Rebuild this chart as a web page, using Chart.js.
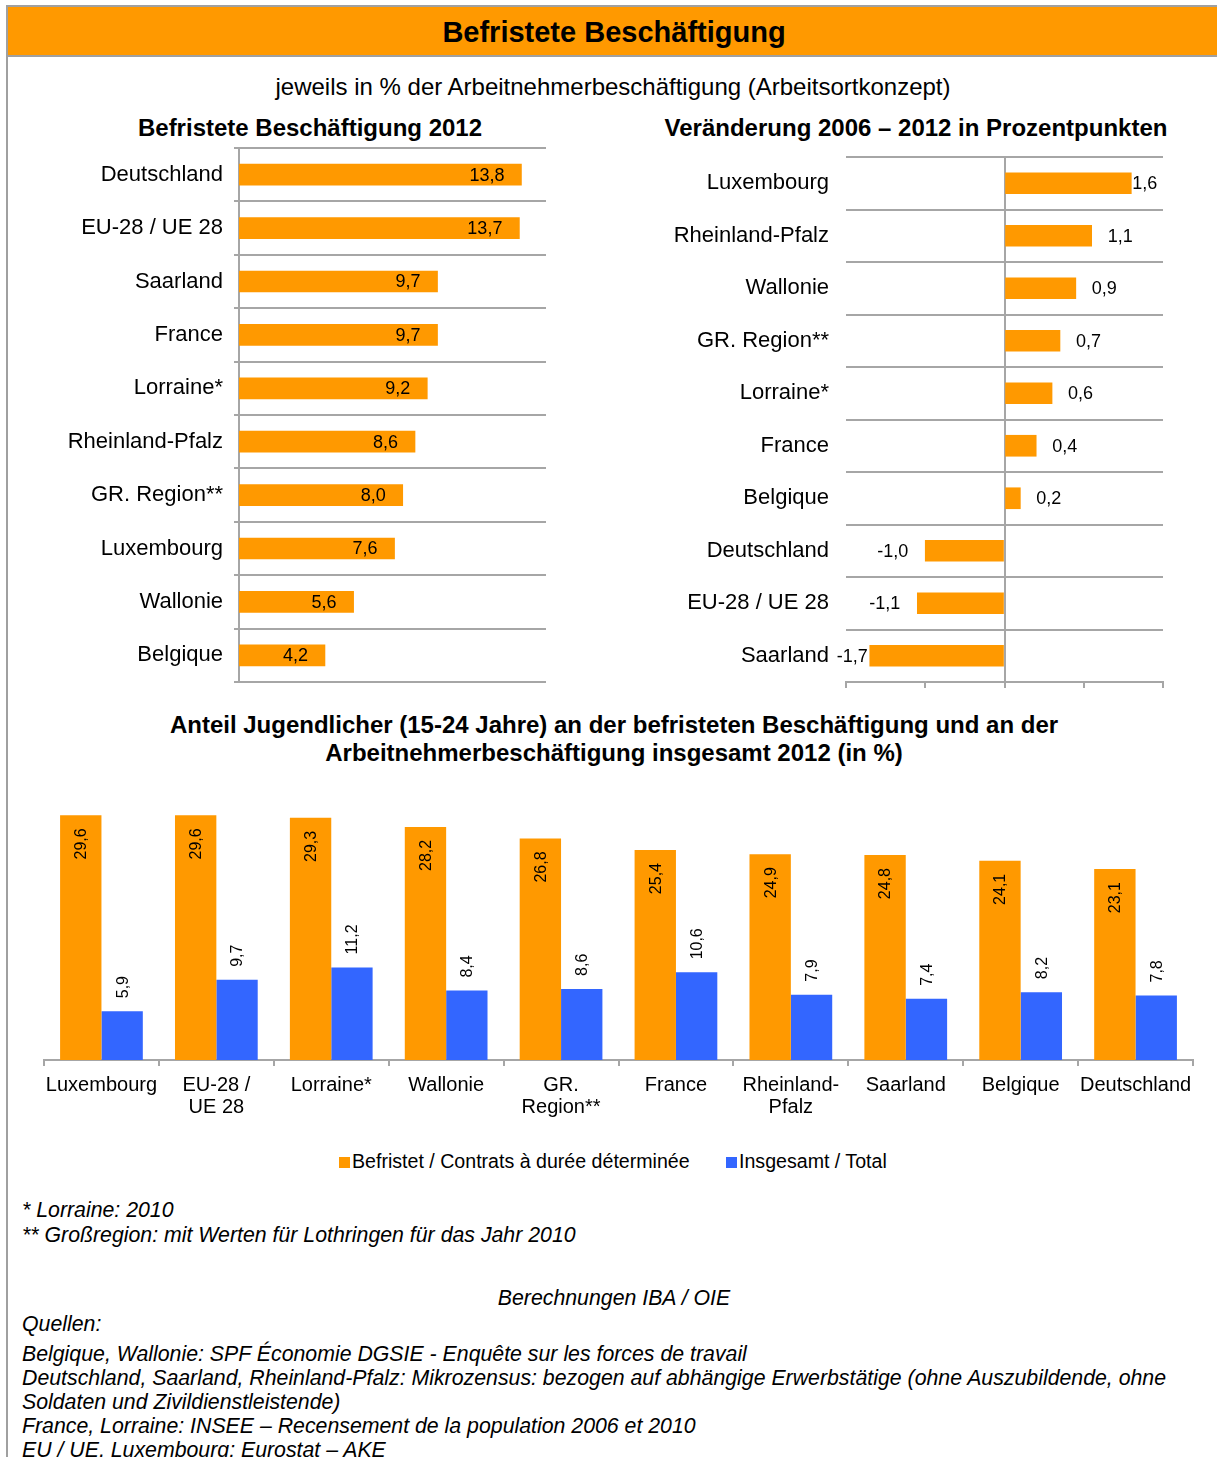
<!DOCTYPE html>
<html>
<head>
<meta charset="utf-8">
<script src="https://cdn.jsdelivr.net/npm/chart.js@4"></script>
<style>
  html, body { margin:0; padding:0; background:#fff; }
  body { width:1217px; height:1457px; position:relative; overflow:hidden; font-family:"Liberation Sans", Arial, sans-serif; color:#000; }
  .abs { position:absolute; }
  .c { position:absolute; transform:translate(-50%,-50%); white-space:nowrap; }
  .l { position:absolute; transform:translateY(-50%); white-space:nowrap; }
  .b { font-weight:bold; }
  .fn { font-style:italic; font-size:21.3px; }
  canvas { position:absolute; }
</style>
</head>
<body>
<div class="abs" style="left:6px;top:5px;width:1211px;height:2px;background:#a0a0a0"></div>
<div class="abs" style="left:6px;top:5px;width:2px;height:1452px;background:#a0a0a0"></div>
<div class="abs" style="left:8px;top:7px;width:1209px;height:48px;background:#FF9900"></div>
<div class="abs" style="left:8px;top:55px;width:1209px;height:2px;background:#a0a0a0"></div>
<div class="c b" style="left:614px;top:32px;font-size:29px">Befristete Beschäftigung</div>
<div class="c" style="left:613px;top:87px;font-size:24px">jeweils in % der Arbeitnehmerbeschäftigung (Arbeitsortkonzept)</div>
<div class="c b" style="left:310px;top:128px;font-size:24px">Befristete Beschäftigung 2012</div>
<div class="c b" style="left:916px;top:128px;font-size:24px">Veränderung 2006 – 2012 in Prozentpunkten</div>
<div class="c b" style="left:614px;top:725px;font-size:24px">Anteil Jugendlicher (15-24 Jahre) an der befristeten Beschäftigung und an der</div>
<div class="c b" style="left:614px;top:753px;font-size:24px">Arbeitnehmerbeschäftigung insgesamt 2012 (in %)</div>

<canvas id="c1" width="560" height="550" style="left:0px;top:140px"></canvas>
<canvas id="c2" width="617" height="560" style="left:600px;top:140px"></canvas>
<canvas id="c3" width="1217" height="350" style="left:0px;top:785px"></canvas>

<div class="abs" style="left:339px;top:1157px;width:11px;height:11px;background:#FF9900"></div>
<div class="l" style="left:352px;top:1161px;font-size:19.6px" id="lg1"></div>
<div class="abs" style="left:726px;top:1157px;width:11px;height:11px;background:#3366FF"></div>
<div class="l" style="left:739px;top:1161px;font-size:19.6px" id="lg2"></div>

<div class="l fn" style="left:22px;top:1210px">* Lorraine: 2010</div>
<div class="l fn" style="left:22px;top:1235px">** Großregion: mit Werten für Lothringen für das Jahr 2010</div>
<div class="c fn" style="left:614px;top:1298px">Berechnungen IBA / OIE</div>
<div class="l fn" style="left:22px;top:1324px">Quellen:</div>
<div class="l fn" style="left:22px;top:1354px">Belgique, Wallonie: SPF Économie DGSIE - Enquête sur les forces de travail</div>
<div class="l fn" style="left:22px;top:1378px">Deutschland, Saarland, Rheinland-Pfalz: Mikrozensus: bezogen auf abhängige Erwerbstätige (ohne Auszubildende, ohne</div>
<div class="l fn" style="left:22px;top:1402px">Soldaten und Zivildienstleistende)</div>
<div class="l fn" style="left:22px;top:1426px">France, Lorraine: INSEE – Recensement de la population 2006 et 2010</div>
<div class="l fn" style="left:22px;top:1450px">EU / UE, Luxembourg: Eurostat – AKE</div>

<script>
// ---- Data ----
const leftCategories = ["Deutschland", "EU-28 / UE 28", "Saarland", "France", "Lorraine*", "Rheinland-Pfalz", "GR. Region**", "Luxembourg", "Wallonie", "Belgique"];
const leftValues = [13.8, 13.7, 9.7, 9.7, 9.2, 8.6, 8.0, 7.6, 5.6, 4.2];

const rightCategories = ["Luxembourg", "Rheinland-Pfalz", "Wallonie", "GR. Region**", "Lorraine*", "France", "Belgique", "Deutschland", "EU-28 / UE 28", "Saarland"];
const rightValues = [1.6, 1.1, 0.9, 0.7, 0.6, 0.4, 0.2, -1.0, -1.1, -1.7];

const bottomCategories = ["Luxembourg", ["EU-28 /", "UE 28"], "Lorraine*", "Wallonie", ["GR.", "Region**"], "France", ["Rheinland-", "Pfalz"], "Saarland", "Belgique", "Deutschland"];
const befristetValues = [29.6, 29.6, 29.3, 28.2, 26.8, 25.4, 24.9, 24.8, 24.1, 23.1];
const insgesamtValues = [5.9, 9.7, 11.2, 8.4, 8.6, 10.6, 7.9, 7.4, 8.2, 7.8];
const seriesNames = ["Befristet / Contrats à durée déterminée", "Insgesamt / Total"];

// ---- Styles ----
const ORANGE = "#FF9900";
const BLUE = "#3366FF";
const GRID = "#a6a6a6";
const FAMILY = '"Liberation Sans", Arial, sans-serif';

document.getElementById("lg1").textContent = seriesNames[0];
document.getElementById("lg2").textContent = seriesNames[1];

const fmt = v => v.toFixed(1).replace(".", ",");

const hLabels = {
  id: "hLabels",
  afterDatasetsDraw(chart, args, opts) {
    const { ctx, chartArea } = chart;
    const meta = chart.getDatasetMeta(0);
    const data = chart.data.datasets[0].data;
    ctx.save();
    ctx.font = "18px " + FAMILY;
    ctx.fillStyle = "#000";
    ctx.textBaseline = "middle";
    meta.data.forEach((bar, i) => {
      const v = data[i];
      const t = fmt(v);
      const w = ctx.measureText(t).width;
      let x;
      if (opts.mode === "insideEnd") {
        ctx.textAlign = "right";
        x = bar.x - 17;
      } else if (v >= 0) {
        ctx.textAlign = "left";
        x = bar.x + 16;
        if (x + w > chartArea.right) x = bar.x + 1;
      } else {
        ctx.textAlign = "right";
        x = bar.x - 17;
        if (x - w < chartArea.left) x = bar.x - 2;
      }
      ctx.fillText(t, x, bar.y + 1);
    });
    ctx.restore();
  }
};

const vLabels = {
  id: "vLabels",
  afterDatasetsDraw(chart) {
    const ctx = chart.ctx;
    ctx.save();
    ctx.font = "16px " + FAMILY;
    ctx.fillStyle = "#000";
    ctx.textBaseline = "middle";
    chart.data.datasets.forEach((ds, di) => {
      chart.getDatasetMeta(di).data.forEach((bar, i) => {
        const t = fmt(ds.data[i]);
        ctx.save();
        ctx.translate(bar.x, bar.y);
        ctx.rotate(-Math.PI / 2);
        if (di === 0) { ctx.textAlign = "right"; ctx.fillText(t, -13, 1); }
        else { ctx.textAlign = "left"; ctx.fillText(t, 13, 1); }
        ctx.restore();
      });
    });
    ctx.restore();
  }
};

function fixY(width) {
  return function (s) { s.width = width; s.paddingTop = 0; s.paddingBottom = 0; };
}

// ---- Left chart ----
new Chart(document.getElementById("c1"), {
  type: "bar",
  data: { labels: leftCategories, datasets: [{ data: leftValues, backgroundColor: ORANGE, barThickness: 21 }] },
  options: {
    indexAxis: "y", responsive: false, animation: false,
    layout: { padding: { left: 0, right: 14, top: 8, bottom: 8 } },
    plugins: { legend: { display: false }, tooltip: { enabled: false }, hLabels: { mode: "insideEnd" } },
    scales: {
      x: { display: false, min: 0, max: 15 },
      y: {
        grid: { color: GRID, lineWidth: 2, tickLength: 5, offset: true },
        border: { color: GRID, width: 2 },
        ticks: { color: "#000", font: { family: FAMILY, size: 22 }, padding: 11 },
        afterFit: fixY(239)
      }
    }
  },
  plugins: [hLabels]
});

// ---- Right chart ----
new Chart(document.getElementById("c2"), {
  type: "bar",
  data: { labels: rightCategories, datasets: [{ data: rightValues, backgroundColor: ORANGE, barThickness: 21 }] },
  options: {
    indexAxis: "y", responsive: false, animation: false,
    layout: { padding: { left: 0, right: 54, top: 17, bottom: 8 } },
    plugins: { legend: { display: false }, tooltip: { enabled: false }, hLabels: { mode: "outside" } },
    scales: {
      x: {
        min: -2, max: 2,
        ticks: { stepSize: 1, display: false },
        grid: { color: c => (c.tick && c.tick.value === 0 ? GRID : "rgba(0,0,0,0)"), tickColor: GRID, lineWidth: 2, tickLength: 6 },
        border: { color: GRID, width: 2 },
        afterFit(s) { s.height = 10; s.paddingLeft = 0; s.paddingRight = 0; }
      },
      y: {
        grid: { color: GRID, lineWidth: 2, drawTicks: false, offset: true },
        border: { display: false },
        ticks: { color: "#000", font: { family: FAMILY, size: 22 }, padding: 17 },
        afterFit: fixY(246)
      }
    }
  },
  plugins: [hLabels]
});

// ---- Bottom chart ----
new Chart(document.getElementById("c3"), {
  type: "bar",
  data: {
    labels: bottomCategories,
    datasets: [
      { label: seriesNames[0], data: befristetValues, backgroundColor: ORANGE, categoryPercentage: 0.72, barPercentage: 1.0 },
      { label: seriesNames[1], data: insgesamtValues, backgroundColor: BLUE, categoryPercentage: 0.72, barPercentage: 1.0 }
    ]
  },
  options: {
    responsive: false, animation: false,
    layout: { padding: { left: 44, right: 24, top: 27, bottom: 15 } },
    plugins: { legend: { display: false }, tooltip: { enabled: false } },
    scales: {
      y: { display: false, min: 0, max: 30 },
      x: {
        grid: { drawOnChartArea: false, drawTicks: true, tickLength: 6, color: GRID, lineWidth: 2, offset: true },
        border: { color: GRID, width: 2 },
        ticks: { color: "#000", font: { family: FAMILY, size: 20, lineHeight: 1.1 }, padding: 8, maxRotation: 0, autoSkip: false },
        afterFit(s) { s.height = 60; s.paddingLeft = 0; s.paddingRight = 0; }
      }
    }
  },
  plugins: [vLabels]
});
</script>
</body>
</html>
